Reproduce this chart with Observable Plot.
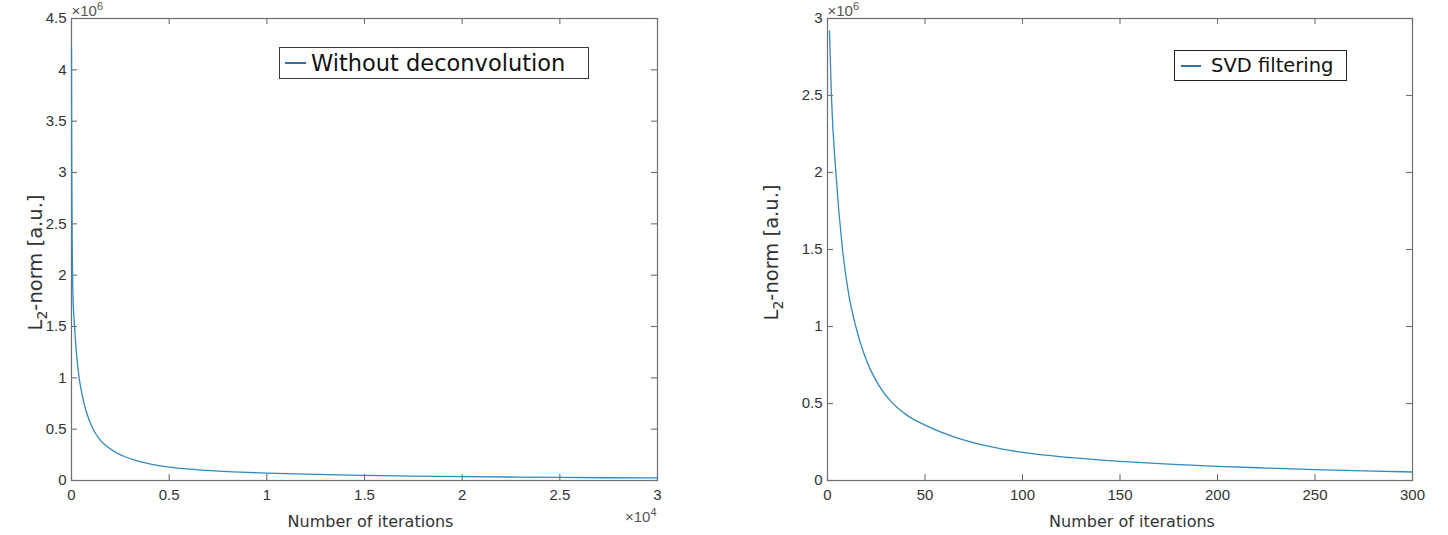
<!DOCTYPE html>
<html>
<head>
<meta charset="utf-8">
<script src="https://cdn.jsdelivr.net/npm/d3@7"></script>
<script src="https://cdn.jsdelivr.net/npm/@observablehq/plot@0.6"></script>
<style>
  html, body { margin: 0; padding: 0; background: #fff; }
  #wrap { position: relative; width: 1448px; height: 535px; display: flex; overflow: hidden; }
  .legend { position: absolute; box-sizing: border-box; background: #fff; display: flex; align-items: center; white-space: nowrap; }
  .legend svg { flex: none; }
</style>
</head>
<body>
<div id="wrap"></div>
<script>
// ---- Left panel: Without deconvolution ----
const leftIter = [0, 10, 20, 35, 50, 75, 100, 154, 250, 392, 550, 750, 1110, 1400, 1700, 2300, 3330, 4000, 5000, 6500, 8000, 10000, 12500, 15000, 17500, 20000, 22500, 25000, 27500, 30000];
const leftVal = [4.22e6, 3.3e6, 2.8e6, 2.35e6, 2.05e6, 1.8e6, 1.67e6, 1.5e6, 1.25e6, 1.0e6, 0.83e6, 0.675e6, 0.5e6, 0.41e6, 0.35e6, 0.27e6, 0.193e6, 0.162e6, 0.13e6, 0.104e6, 0.087e6, 0.072e6, 0.059e6, 0.05e6, 0.043e6, 0.038e6, 0.034e6, 0.03e6, 0.027e6, 0.025e6];
const leftXTicks = [0, 5000, 10000, 15000, 20000, 25000, 30000];
const leftYTicks = [0, 0.5e6, 1e6, 1.5e6, 2e6, 2.5e6, 3e6, 3.5e6, 4e6, 4.5e6];
const leftLegend = "Without deconvolution";

// ---- Right panel: SVD filtering ----
const rightIter = [1, 2, 4.3, 7.7, 11, 14.5, 18.8, 22, 26.5, 32.4, 41.8, 50, 66, 83, 100, 125, 150, 175, 200, 225, 250, 275, 300];
const rightVal = [2.92e6, 2.5e6, 2.0e6, 1.5e6, 1.2e6, 1.0e6, 0.82e6, 0.72e6, 0.615e6, 0.515e6, 0.415e6, 0.36e6, 0.279e6, 0.221e6, 0.182e6, 0.148e6, 0.124e6, 0.106e6, 0.092e6, 0.081e6, 0.071e6, 0.062e6, 0.055e6];
const rightXTicks = [0, 50, 100, 150, 200, 250, 300];
const rightYTicks = [0, 0.5e6, 1e6, 1.5e6, 2e6, 2.5e6, 3e6];
const rightLegend = "SVD filtering";

const xLabel = "Number of iterations";
const yLabel = "L2-norm [a.u.]";

const lineColor = "#3089c2";
const legendLineColor = "#33709f";
const frameColor = "#6f6f6f";
const textColor = "#333";
const FONT = "'Liberation Sans', Arial, Helvetica, sans-serif";
const LFONT = "'DejaVu Sans', sans-serif";

function panel(cfg) {
  const data = cfg.iter.map((d, i) => ({iter: d, val: cfg.val[i]}));
  const W = 724, H = 535;
  const fw = W - cfg.ml - cfg.mr, fh = H - cfg.mt - cfg.mb;
  const T = 6;
  const marks = [
    Plot.frame({stroke: frameColor, strokeWidth: 1.2}),
    Plot.tickX(cfg.xTicks, {x: d => d, insetTop: fh - T, stroke: frameColor, strokeWidth: 1.1}),
    Plot.tickX(cfg.xTicks, {x: d => d, insetBottom: fh - T, stroke: frameColor, strokeWidth: 1.1}),
    Plot.tickY(cfg.yTicks, {y: d => d, insetRight: fw - T, stroke: frameColor, strokeWidth: 1.1}),
    Plot.tickY(cfg.yTicks, {y: d => d, insetLeft: fw - T, stroke: frameColor, strokeWidth: 1.1}),
    Plot.axisX(cfg.xTicks, {tickSize: 0, tickPadding: 9, tickFormat: cfg.xFmt, fontSize: 15, color: textColor, label: null}),
    Plot.axisY(cfg.yTicks, {tickSize: 0, tickPadding: 5, tickFormat: d => String(d / 1e6), fontSize: 15, color: textColor, label: null}),
    Plot.line(data, {x: "iter", y: "val", stroke: lineColor, strokeWidth: 1.3, curve: "monotone-x"}),
    Plot.text([xLabel], {frameAnchor: "bottom", textAnchor: "middle", lineAnchor: "middle", dx: cfg.xlDx, dy: 41, fontSize: 16, fontFamily: LFONT, fill: textColor}),
    Plot.text([yLabel], {frameAnchor: "left", textAnchor: "middle", lineAnchor: "middle", rotate: -90, dx: cfg.ylDx, dy: cfg.ylDy, fontSize: 19.5, fontFamily: LFONT, fill: textColor}),
    Plot.text(["EXP6"], {frameAnchor: "top-left", textAnchor: "start", lineAnchor: "middle", dx: 0, dy: -7, fontSize: 15, fill: "#555"})
  ];
  if (cfg.xExp) marks.push(Plot.text(["EXP4"], {frameAnchor: "bottom-right", textAnchor: "end", lineAnchor: "middle", dx: -1, dy: 37, fontSize: 15, fill: "#555"}));
  const svg = Plot.plot({
    width: W, height: H,
    marginLeft: cfg.ml, marginRight: cfg.mr, marginTop: cfg.mt, marginBottom: cfg.mb,
    x: {domain: cfg.xDomain},
    y: {domain: cfg.yDomain},
    style: {fontFamily: FONT, background: "#fff", overflow: "visible"},
    marks
  });
  d3.select(svg).selectAll("text").each(function() {
    const t = this.textContent;
    if (t === yLabel) {
      this.innerHTML = 'L<tspan font-size="14" baseline-shift="-5">2</tspan>-norm [a.u.]';
    } else if (t === "EXP6") {
      this.innerHTML = '\u00d710<tspan font-size="11" baseline-shift="6">6</tspan>';
    } else if (t === "EXP4") {
      this.innerHTML = '\u00d710<tspan font-size="11" baseline-shift="6">4</tspan>';
    }
  });
  return svg;
}

const wrap = document.getElementById("wrap");
wrap.appendChild(panel({
  iter: leftIter, val: leftVal, xTicks: leftXTicks, yTicks: leftYTicks,
  xDomain: [0, 30000], yDomain: [0, 4.5e6],
  ml: 71, mr: 67, mt: 18, mb: 55,
  xFmt: d => String(d / 1e4), xExp: true, xlDx: 6, ylDx: -36, ylDy: 13
}));
wrap.appendChild(panel({
  iter: rightIter, val: rightVal, xTicks: rightXTicks, yTicks: rightYTicks,
  xDomain: [0, 300], yDomain: [0, 3e6],
  ml: 103, mr: 36, mt: 18, mb: 55,
  xFmt: d => String(d), xExp: false, xlDx: 12, ylDx: -56, ylDy: 3
}));

function legend(text, box, font) {
  const div = document.createElement("div");
  div.className = "legend";
  Object.assign(div.style, {
    left: box.left + "px", top: box.top + "px", width: box.w + "px", height: box.h + "px",
    border: box.border, paddingLeft: box.pad + "px", fontFamily: font.family, fontSize: font.size + "px", color: "#111"
  });
  div.innerHTML = `<svg width="${box.lw}" height="10" style="margin-right:${box.gap}px"><line x1="0" y1="5" x2="${box.lw}" y2="5" stroke="${legendLineColor}" stroke-width="2"/></svg><span>${text}</span>`;
  wrap.appendChild(div);
}
legend(leftLegend, {left: 279, top: 47, w: 310, h: 32, border: "1.8px solid #3a3a3a", pad: 5, lw: 21, gap: 5}, {family: LFONT, size: 22.5});
legend(rightLegend, {left: 1174, top: 50, w: 173, h: 31, border: "1.5px solid #222", pad: 6, lw: 20, gap: 10}, {family: LFONT, size: 19.5});
</script>
</body>
</html>
